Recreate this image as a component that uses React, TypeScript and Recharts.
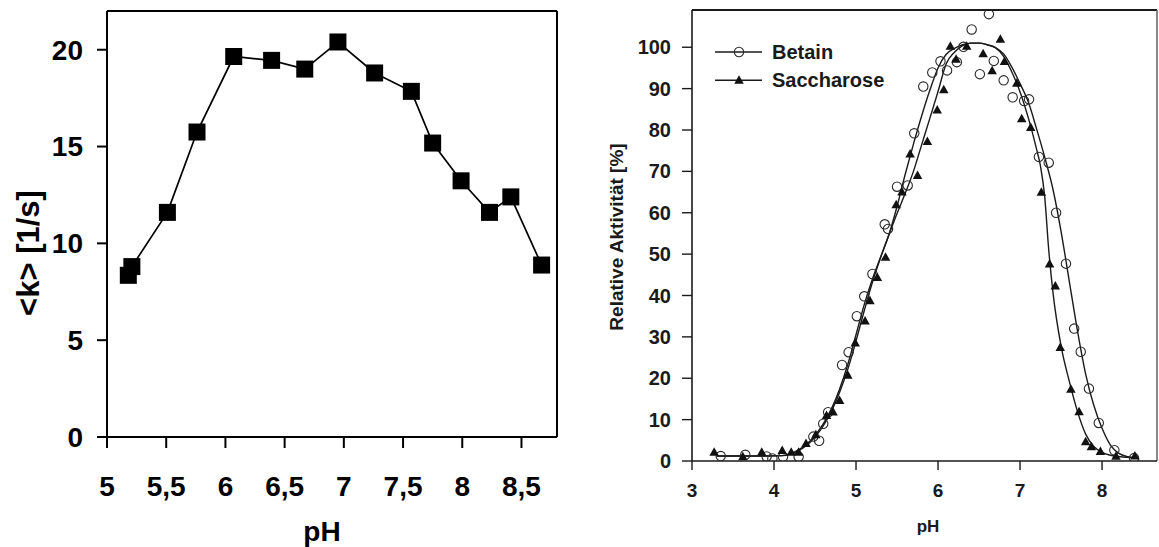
import React from 'react';
import { ComposedChart, Scatter, Line, XAxis, YAxis, Label, ReferenceLine } from 'recharts';

// ---------- Left chart: <k> vs pH ----------
const kPH = [5.18, 5.21, 5.51, 5.76, 6.07, 6.39, 6.67, 6.95, 7.26, 7.57, 7.75, 7.99, 8.23, 8.41, 8.67];
const kValues = [8.35, 8.8, 11.6, 15.75, 19.65, 19.45, 19.0, 20.4, 18.8, 17.85, 15.18, 13.23, 11.6, 12.4, 8.88];
const kXTicks = [5, 5.5, 6, 6.5, 7, 7.5, 8, 8.5];
const kYTicks = [0, 5, 10, 15, 20];
const kXDomain = [5, 8.8];
const kYDomain = [0, 22];
const kXTitle = 'pH';
const kYTitle = '<k> [1/s]';

// ---------- Right chart: relative activity vs pH ----------
const betainPH = [3.35, 3.65, 3.91, 3.98, 4.11, 4.3, 4.48, 4.55, 4.6, 4.66, 4.83, 4.91, 5.01, 5.1, 5.2, 5.35, 5.39, 5.5, 5.63, 5.71, 5.82, 5.93, 6.03, 6.11, 6.23, 6.31, 6.41, 6.51, 6.62, 6.68, 6.8, 6.91, 7.05, 7.11, 7.23, 7.35, 7.44, 7.56, 7.66, 7.74, 7.84, 7.96, 8.15, 8.39];
const betainValues = [1.2, 1.5, 1.1, 0.6, 1.0, 1.0, 5.9, 4.9, 9.0, 11.8, 23.2, 26.3, 35.0, 39.8, 45.2, 57.2, 56.1, 66.3, 66.6, 79.2, 90.5, 93.9, 96.6, 94.4, 96.4, 100.1, 104.3, 93.5, 108.0, 96.7, 92.0, 87.9, 87.0, 87.4, 73.5, 72.1, 60.0, 47.7, 32.0, 26.4, 17.5, 9.2, 2.6, 0.7];

const saccharosePH = [3.27, 3.62, 3.85, 4.1, 4.21, 4.3, 4.39, 4.51, 4.64, 4.72, 4.8, 4.9, 4.99, 5.11, 5.17, 5.26, 5.36, 5.49, 5.56, 5.66, 5.75, 5.87, 5.99, 6.07, 6.15, 6.22, 6.35, 6.55, 6.66, 6.76, 6.81, 6.96, 7.02, 7.13, 7.26, 7.36, 7.43, 7.49, 7.62, 7.72, 7.8, 7.87, 7.98, 8.17, 8.4];
const saccharoseValues = [2.1, 1.0, 2.1, 2.5, 2.1, 2.1, 4.2, 6.3, 11.0, 11.8, 14.6, 20.7, 28.5, 33.8, 38.7, 44.3, 49.2, 61.9, 65.0, 74.2, 69.0, 77.2, 84.8, 89.7, 100.2, 97.1, 100.2, 98.4, 94.3, 101.9, 96.5, 91.3, 82.7, 80.6, 64.9, 47.6, 42.3, 27.4, 17.3, 11.9, 4.6, 3.4, 2.3, 1.1, 1.2];

const betainFitPH = [3.3, 3.6, 3.9, 4.1, 4.2, 4.3, 4.4, 4.5, 4.6, 4.7, 4.8, 4.9, 5.0, 5.1, 5.2, 5.3, 5.4, 5.5, 5.6, 5.7, 5.8, 5.9, 6.0, 6.1, 6.2, 6.3, 6.4, 6.5, 6.6, 6.7, 6.8, 6.9, 7.0, 7.1, 7.2, 7.3, 7.4, 7.5, 7.6, 7.7, 7.8, 7.9, 8.0, 8.1, 8.2, 8.3, 8.4];
const betainFitValues = [1.2, 1.2, 1.2, 1.3, 1.8, 2.7, 4.1, 6.2, 9.0, 12.6, 17.4, 23.4, 30.5, 37.8, 44.0, 49.3, 54.6, 61.5, 69.3, 76.6, 83.4, 89.6, 95.0, 98.3, 99.7, 100.6, 101.0, 101.0, 100.6, 99.9, 98.4, 95.2, 91.2, 86.8, 80.4, 73.5, 65.8, 55.5, 43.5, 31.5, 21.0, 13.4, 7.9, 3.9, 1.9, 1.1, 0.8];

const saccharoseFitPH = [3.3, 3.6, 3.9, 4.1, 4.2, 4.3, 4.4, 4.5, 4.6, 4.7, 4.8, 4.9, 5.0, 5.1, 5.2, 5.3, 5.4, 5.5, 5.6, 5.7, 5.8, 5.9, 6.0, 6.1, 6.2, 6.3, 6.4, 6.5, 6.6, 6.7, 6.8, 6.9, 7.0, 7.1, 7.2, 7.25, 7.3, 7.35, 7.4, 7.5, 7.6, 7.7, 7.8, 7.9, 8.0, 8.1, 8.2, 8.3, 8.4];
const saccharoseFitValues = [1.2, 1.2, 1.2, 1.3, 1.7, 2.5, 3.8, 5.8, 8.5, 12.0, 16.6, 22.2, 29.0, 36.3, 43.2, 49.2, 54.6, 59.8, 64.7, 70.0, 76.4, 82.8, 89.3, 96.0, 98.8, 100.4, 101.0, 101.0, 100.6, 99.9, 97.8, 94.0, 89.2, 83.0, 75.5, 71.2, 64.0, 51.0, 41.0, 27.8, 19.3, 12.0, 6.5, 3.5, 2.1, 1.4, 1.1, 0.9, 0.8];

const actXTicks = [3, 4, 5, 6, 7, 8];
const actYTicks = [0, 10, 20, 30, 40, 50, 60, 70, 80, 90, 100];
const actXDomain = [3, 8.67];
const actYDomain = [0, 109];
const actXTitle = 'pH';
const actYTitle = 'Relative Aktivität [%]';
const seriesNames = ['Betain', 'Saccharose'];

const FONT = '"Liberation Sans", Arial, Helvetica, sans-serif';

const RIGHT_W = 579;
const RIGHT_MARGIN = { top: 10, right: 2, bottom: 0, left: 0 };

const zip = (xs: number[], ys: number[]) => xs.map((x, i) => ({ x, y: ys[i] }));
const comma = (v: number) => String(v).replace('.', ',');

const kData = zip(kPH, kValues);
const betainData = zip(betainPH, betainValues);
const saccharoseData = zip(saccharosePH, saccharoseValues);
const betainFit = zip(betainFitPH, betainFitValues);
const saccharoseFit = zip(saccharoseFitPH, saccharoseFitValues);

const Square = (props: any) => {
  const { cx, cy } = props;
  const s = 17;
  return <rect x={cx - s / 2} y={cy - s / 2} width={s} height={s} fill="#000" />;
};

const OpenCircle = (props: any) => {
  const { cx, cy } = props;
  return <circle cx={cx} cy={cy} r={4.7} fill="none" stroke="#2a2a2a" strokeWidth={1.1} />;
};

const Triangle = (props: any) => {
  const { cx, cy } = props;
  const h = 8.5;
  const w = 9.5;
  return (
    <polygon
      points={`${cx},${cy - h * 0.6} ${cx - w / 2},${cy + h * 0.4} ${cx + w / 2},${cy + h * 0.4}`}
      fill="#111"
    />
  );
};

// Frame (top + right border) and legend, drawn from the plot area's left edge line's viewBox
const FrameAndLegend = (props: any) => {
  const vb = props.viewBox || {};
  const left = typeof vb.x === 'number' ? vb.x : 112;
  const top = typeof vb.y === 'number' ? vb.y : RIGHT_MARGIN.top;
  const height = typeof vb.height === 'number' && vb.height > 0 ? vb.height : 451;
  const right = RIGHT_W - RIGHT_MARGIN.right;
  const x0 = left + 23;
  const y0 = top + 42;
  return (
    <g>
      <line x1={left} x2={right} y1={top} y2={top} stroke="#1a1a1a" strokeWidth={1.8} />
      <line x1={right} x2={right} y1={top} y2={top + height} stroke="#555" strokeWidth={1.4} />
      {seriesNames.map((name, i) => {
        const y = y0 + i * 28.3;
        return (
          <g key={name}>
            <line x1={x0} x2={x0 + 47} y1={y} y2={y} stroke="#1a1a1a" strokeWidth={1.4} />
            {i === 0 ? OpenCircle({ cx: x0 + 24, cy: y }) : Triangle({ cx: x0 + 24, cy: y })}
            <text x={x0 + 57} y={y + 7} fontFamily={FONT} fontWeight={700} fontSize={20} fill="#1a1a1a">
              {name}
            </text>
          </g>
        );
      })}
    </g>
  );
};

export default function App() {
  return (
    <div style={{ position: 'absolute', left: 0, top: 0, width: 1159, height: 547, background: '#fff', overflow: 'hidden' }}>
      {/* Left chart */}
      <div style={{ position: 'absolute', left: 0, top: 0 }}>
        <ComposedChart width={580} height={547} margin={{ top: 11, right: 23, bottom: 0, left: 0 }}>
          <XAxis
            xAxisId="b"
            dataKey="x"
            type="number"
            domain={kXDomain}
            ticks={kXTicks}
            interval={0}
            allowDataOverflow
            tickFormatter={comma}
            height={110}
            tickSize={11}
            tickMargin={28}
            axisLine={{ stroke: '#000', strokeWidth: 2 }}
            tickLine={{ stroke: '#000', strokeWidth: 2 }}
            tick={{ fill: '#000', fontSize: 28, fontWeight: 700, fontFamily: FONT }}
          >
            <Label
              content={() => (
                <text x={322} y={541} textAnchor="middle" fontFamily={FONT} fontWeight={700} fontSize={28} fill="#000">
                  {kXTitle}
                </text>
              )}
            />
          </XAxis>
          <YAxis
            yAxisId="l"
            dataKey="y"
            type="number"
            domain={kYDomain}
            ticks={kYTicks}
            interval={0}
            allowDataOverflow
            width={107}
            tickSize={10}
            tickMargin={14}
            axisLine={{ stroke: '#000', strokeWidth: 2 }}
            tickLine={{ stroke: '#000', strokeWidth: 2 }}
            tick={{ fill: '#000', fontSize: 28, fontWeight: 700, fontFamily: FONT }}
          >
            <Label
              content={() => (
                <text
                  x={28}
                  y={253}
                  transform="rotate(-90 28 253)"
                  textAnchor="middle"
                  dominantBaseline="central"
                  fontFamily={FONT}
                  fontWeight={700}
                  fontSize={31}
                  fill="#000"
                >
                  {kYTitle}
                </text>
              )}
            />
          </YAxis>
          <ReferenceLine xAxisId="b" yAxisId="l" y={kYDomain[1]} stroke="#000" strokeWidth={2} />
          <ReferenceLine xAxisId="b" yAxisId="l" x={kXDomain[1]} stroke="#000" strokeWidth={2} />
          <Scatter
            xAxisId="b"
            yAxisId="l"
            data={kData}
            dataKey="y"
            line={{ stroke: '#000', strokeWidth: 1.7 }}
            shape={Square}
            isAnimationActive={false}
          />
        </ComposedChart>
      </div>

      {/* Right chart */}
      <div style={{ position: 'absolute', left: 580, top: 0 }}>
        <ComposedChart width={RIGHT_W} height={547} margin={RIGHT_MARGIN}>
          <XAxis
            xAxisId="b"
            dataKey="x"
            type="number"
            domain={actXDomain}
            ticks={actXTicks}
            interval={0}
            allowDataOverflow
            height={86}
            tickSize={9}
            tickMargin={14}
            axisLine={{ stroke: '#1a1a1a', strokeWidth: 1.6 }}
            tickLine={{ stroke: '#1a1a1a', strokeWidth: 1.4 }}
            tick={{ fill: '#1a1a1a', fontSize: 19, fontWeight: 700, fontFamily: FONT }}
          >
            <Label
              content={() => (
                <text x={348} y={532} textAnchor="middle" fontFamily={FONT} fontWeight={700} fontSize={17} fill="#1a1a1a">
                  {actXTitle}
                </text>
              )}
            />
          </XAxis>
          <YAxis
            yAxisId="l"
            dataKey="y"
            type="number"
            domain={actYDomain}
            ticks={actYTicks}
            interval={0}
            allowDataOverflow
            width={112}
            tickSize={10}
            tickMargin={11}
            axisLine={{ stroke: '#1a1a1a', strokeWidth: 1.6 }}
            tickLine={{ stroke: '#1a1a1a', strokeWidth: 1.4 }}
            tick={{ fill: '#1a1a1a', fontSize: 20, fontWeight: 700, fontFamily: FONT }}
          >
            <Label
              content={() => (
                <text
                  x={36}
                  y={237}
                  transform="rotate(-90 36 237)"
                  textAnchor="middle"
                  dominantBaseline="central"
                  fontFamily={FONT}
                  fontWeight={700}
                  fontSize={19}
                  fill="#1a1a1a"
                >
                  {actYTitle}
                </text>
              )}
            />
          </YAxis>
          <ReferenceLine
            xAxisId="b"
            yAxisId="l"
            x={actXDomain[0]}
            stroke="none"
            label={<FrameAndLegend />}
          />
          <Line
            xAxisId="b"
            yAxisId="l"
            data={betainFit}
            dataKey="y"
            type="monotone"
            stroke="#1a1a1a"
            strokeWidth={1.4}
            dot={false}
            activeDot={false}
            legendType="none"
            isAnimationActive={false}
          />
          <Line
            xAxisId="b"
            yAxisId="l"
            data={saccharoseFit}
            dataKey="y"
            type="monotone"
            stroke="#1a1a1a"
            strokeWidth={1.4}
            dot={false}
            activeDot={false}
            legendType="none"
            isAnimationActive={false}
          />
          <Scatter
            name={seriesNames[0]}
            xAxisId="b"
            yAxisId="l"
            data={betainData}
            dataKey="y"
            shape={OpenCircle}
            isAnimationActive={false}
          />
          <Scatter
            name={seriesNames[1]}
            xAxisId="b"
            yAxisId="l"
            data={saccharoseData}
            dataKey="y"
            shape={Triangle}
            isAnimationActive={false}
          />
        </ComposedChart>
      </div>
    </div>
  );
}
